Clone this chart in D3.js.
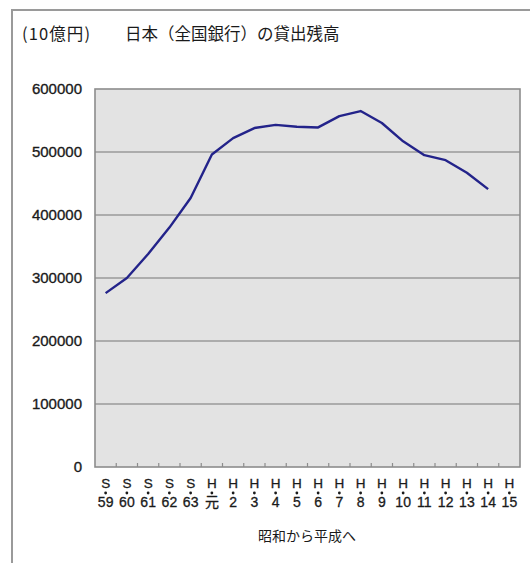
<!DOCTYPE html>
<html>
<head>
<meta charset="utf-8">
<script src="https://cdn.jsdelivr.net/npm/d3@7"></script>
<style>
  html, body { margin: 0; padding: 0; background: #fff; }
  svg { display: block; }
</style>
</head>
<body>
<svg id="chart" width="530" height="563"></svg>
<script>
// 年度ラベル（上段：元号の頭文字、下段：年）
const eraLetters = ["S","S","S","S","S","H","H","H","H","H","H","H","H","H","H","H","H","H","H","H"];
const yearLabels = ["59","60","61","62","63","元","2","3","4","5","6","7","8","9","10","11","12","13","14","15"];
// 全国銀行の貸出残高（10億円）、S59〜H14
const loanBalance = [276000, 300000, 338000, 380000, 427000, 496000, 522000, 538000, 543000, 540000,
                     539000, 557000, 565000, 546000, 517000, 495000, 487000, 467000, 441000];
const yTicks = [0, 100000, 200000, 300000, 400000, 500000, 600000];

const svg = d3.select("#chart");
const plot = { left: 95, right: 520, top: 89, bottom: 467 };
const ink = "#1a1a1a";

// 外枠
svg.append("path")
  .attr("d", "M12,563 L12,10 L530,10")
  .attr("fill", "none").attr("stroke", "#9a9a9a").attr("stroke-width", 2);

// タイトル
svg.append("text").attr("x", 22).attr("y", 40)
  .attr("font-family", "'Noto Sans CJK JP', sans-serif").attr("font-size", 16.5)
  .attr("letter-spacing", 1.1)
  .attr("fill", ink).text("(10億円)");
svg.append("text").attr("x", 125).attr("y", 40)
  .attr("font-family", "'Noto Sans CJK JP', sans-serif").attr("font-size", 16.5)
  .attr("fill", ink).text("日本（全国銀行）の貸出残高");

const keys = yearLabels.map((d, i) => i);
const x = d3.scaleBand().domain(keys).range([plot.left, plot.right]).padding(0);
const y = d3.scaleLinear().domain([0, 600000]).range([plot.bottom, plot.top]);

// プロット領域
svg.append("rect")
  .attr("x", plot.left).attr("y", plot.top)
  .attr("width", plot.right - plot.left).attr("height", plot.bottom - plot.top)
  .attr("fill", "#e3e3e3");

// 目盛線
svg.append("g").selectAll("line")
  .data(yTicks.filter(v => v > 0 && v < 600000))
  .join("line")
  .attr("x1", plot.left).attr("x2", plot.right)
  .attr("y1", d => y(d)).attr("y2", d => y(d))
  .attr("stroke", "#9a9a9a").attr("stroke-width", 1.6);

svg.append("rect")
  .attr("x", plot.left).attr("y", plot.top)
  .attr("width", plot.right - plot.left).attr("height", plot.bottom - plot.top)
  .attr("fill", "none").attr("stroke", "#8c8c8c").attr("stroke-width", 1.6);

// Y軸
const yAxis = svg.append("g")
  .attr("transform", `translate(${plot.left},0)`)
  .call(d3.axisLeft(y).tickValues(yTicks).tickSize(0).tickPadding(13).tickFormat(d3.format("d")));
yAxis.select(".domain").remove();
yAxis.selectAll("text")
  .attr("font-family", "'Liberation Sans', Arial, sans-serif")
  .attr("font-size", 15).attr("fill", ink)
  .attr("stroke", ink).attr("stroke-width", 0.35);

// X軸の目盛（区切り）
svg.append("g").selectAll("line")
  .data(keys.slice(1))
  .join("line")
  .attr("x1", d => x(d)).attr("x2", d => x(d))
  .attr("y1", plot.bottom).attr("y2", plot.bottom - 4)
  .attr("stroke", "#8c8c8c").attr("stroke-width", 1.2);

// X軸ラベル（三段）
const xAxis = svg.append("g")
  .attr("transform", `translate(0,${plot.bottom})`)
  .call(d3.axisBottom(x).tickSize(0).tickFormat(""));
xAxis.select(".domain").remove();
xAxis.selectAll(".tick").each(function(d) {
  const t = d3.select(this);
  const font = "'Liberation Sans Narrow', 'Liberation Sans', 'Noto Sans CJK JP', sans-serif";
  t.append("text").attr("y", 21).attr("text-anchor", "middle")
    .attr("font-family", font).attr("font-size", 13.5).attr("fill", ink)
    .attr("stroke", ink).attr("stroke-width", 0.3)
    .text(eraLetters[d]);
  t.append("circle").attr("cx", 0).attr("cy", 26).attr("r", 1.4).attr("fill", ink);
  t.append("text").attr("y", 40).attr("text-anchor", "middle")
    .attr("font-family", font).attr("font-size", 14).attr("fill", ink)
    .attr("stroke", ink).attr("stroke-width", 0.3)
    .text(yearLabels[d]);
});

// 折れ線
const line = d3.line()
  .x((d, i) => x(i) + x.bandwidth() / 2)
  .y(d => y(d));
svg.append("path")
  .datum(loanBalance)
  .attr("d", line)
  .attr("fill", "none")
  .attr("stroke", "#23238a")
  .attr("stroke-width", 2.4)
  .attr("stroke-linejoin", "round");

// X軸タイトル
svg.append("text").attr("x", 307).attr("y", 541).attr("text-anchor", "middle")
  .attr("font-family", "'Noto Sans CJK JP', sans-serif").attr("font-size", 14)
  .attr("fill", ink).text("昭和から平成へ");
</script>
</body>
</html>
